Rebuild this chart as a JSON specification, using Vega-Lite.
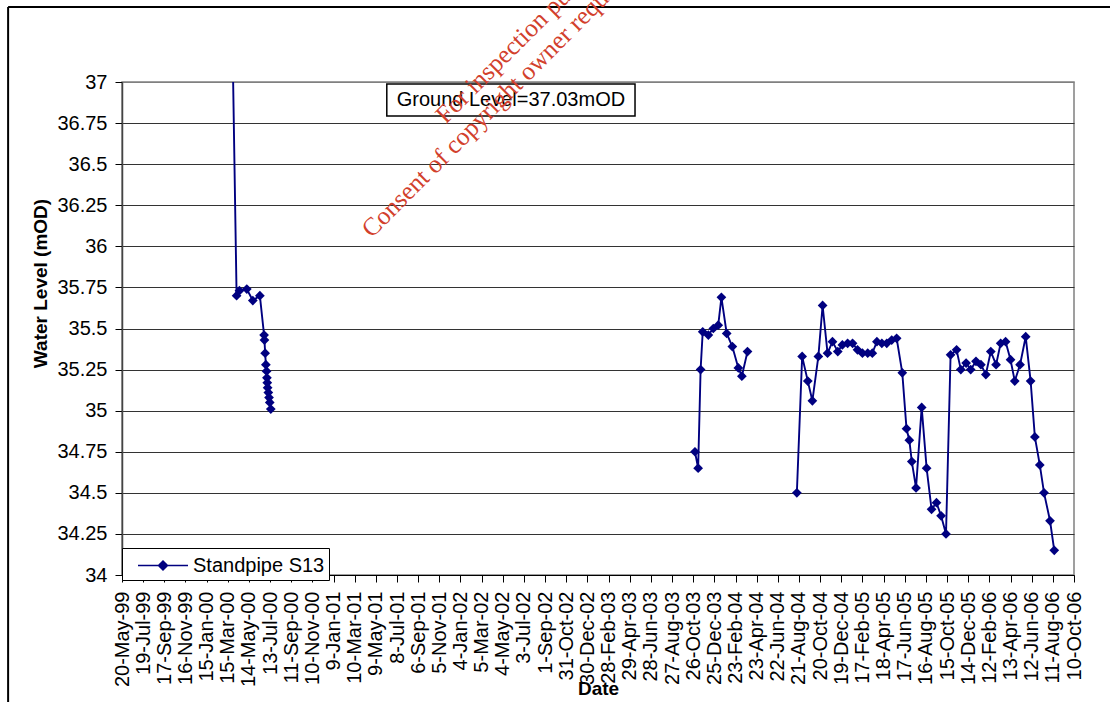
{
  "$schema": "https://vega.github.io/schema/vega-lite/v6.json",
  "autosize": "none",
  "width": 952,
  "height": 493,
  "padding": {"left": 122, "top": 82, "right": 36, "bottom": 138},
  "background": "white",
  "config": {
    "font": "Liberation Sans",
    "view": {"stroke": "#808080", "strokeWidth": 1.5},
    "axis": {"labelOverlap": false}
  },
  "data": {"values": [{"note": "annotation"}]},
  "datasets": {
    "levels": [
      {"date": "2000-03-30", "level": 37.03, "seg": 1},
      {"date": "2000-04-09", "level": 35.70, "seg": 1},
      {"date": "2000-04-17", "level": 35.73, "seg": 1},
      {"date": "2000-05-08", "level": 35.74, "seg": 1},
      {"date": "2000-05-25", "level": 35.67, "seg": 1},
      {"date": "2000-06-14", "level": 35.70, "seg": 1},
      {"date": "2000-06-26", "level": 35.46, "seg": 1},
      {"date": "2000-06-27", "level": 35.43, "seg": 1},
      {"date": "2000-06-29", "level": 35.35, "seg": 1},
      {"date": "2000-07-01", "level": 35.28, "seg": 1},
      {"date": "2000-07-03", "level": 35.24, "seg": 1},
      {"date": "2000-07-04", "level": 35.20, "seg": 1},
      {"date": "2000-07-05", "level": 35.17, "seg": 1},
      {"date": "2000-07-06", "level": 35.14, "seg": 1},
      {"date": "2000-07-08", "level": 35.11, "seg": 1},
      {"date": "2000-07-10", "level": 35.08, "seg": 1},
      {"date": "2000-07-12", "level": 35.05, "seg": 1},
      {"date": "2000-07-15", "level": 35.01, "seg": 1},
      {"date": "2003-10-31", "level": 34.75, "seg": 2},
      {"date": "2003-11-09", "level": 34.65, "seg": 2},
      {"date": "2003-11-16", "level": 35.25, "seg": 2},
      {"date": "2003-11-22", "level": 35.48, "seg": 2},
      {"date": "2003-12-08", "level": 35.46, "seg": 2},
      {"date": "2003-12-22", "level": 35.50, "seg": 2},
      {"date": "2004-01-05", "level": 35.52, "seg": 2},
      {"date": "2004-01-14", "level": 35.69, "seg": 2},
      {"date": "2004-01-29", "level": 35.47, "seg": 2},
      {"date": "2004-02-14", "level": 35.39, "seg": 2},
      {"date": "2004-03-02", "level": 35.26, "seg": 2},
      {"date": "2004-03-12", "level": 35.21, "seg": 2},
      {"date": "2004-03-28", "level": 35.36, "seg": 2},
      {"date": "2004-08-15", "level": 34.50, "seg": 3},
      {"date": "2004-08-30", "level": 35.33, "seg": 3},
      {"date": "2004-09-15", "level": 35.18, "seg": 3},
      {"date": "2004-09-28", "level": 35.06, "seg": 3},
      {"date": "2004-10-15", "level": 35.33, "seg": 3},
      {"date": "2004-10-27", "level": 35.64, "seg": 3},
      {"date": "2004-11-10", "level": 35.35, "seg": 3},
      {"date": "2004-11-24", "level": 35.42, "seg": 3},
      {"date": "2004-12-09", "level": 35.36, "seg": 3},
      {"date": "2004-12-22", "level": 35.40, "seg": 3},
      {"date": "2005-01-06", "level": 35.41, "seg": 3},
      {"date": "2005-01-20", "level": 35.41, "seg": 3},
      {"date": "2005-02-03", "level": 35.37, "seg": 3},
      {"date": "2005-02-17", "level": 35.35, "seg": 3},
      {"date": "2005-03-04", "level": 35.35, "seg": 3},
      {"date": "2005-03-17", "level": 35.35, "seg": 3},
      {"date": "2005-03-30", "level": 35.42, "seg": 3},
      {"date": "2005-04-13", "level": 35.41, "seg": 3},
      {"date": "2005-04-27", "level": 35.41, "seg": 3},
      {"date": "2005-05-11", "level": 35.43, "seg": 3},
      {"date": "2005-05-25", "level": 35.44, "seg": 3},
      {"date": "2005-06-10", "level": 35.23, "seg": 3},
      {"date": "2005-06-22", "level": 34.89, "seg": 3},
      {"date": "2005-06-30", "level": 34.82, "seg": 3},
      {"date": "2005-07-07", "level": 34.69, "seg": 3},
      {"date": "2005-07-19", "level": 34.53, "seg": 3},
      {"date": "2005-08-04", "level": 35.02, "seg": 3},
      {"date": "2005-08-18", "level": 34.65, "seg": 3},
      {"date": "2005-09-01", "level": 34.40, "seg": 3},
      {"date": "2005-09-15", "level": 34.44, "seg": 3},
      {"date": "2005-09-28", "level": 34.36, "seg": 3},
      {"date": "2005-10-12", "level": 34.25, "seg": 3},
      {"date": "2005-10-25", "level": 35.34, "seg": 3},
      {"date": "2005-11-11", "level": 35.37, "seg": 3},
      {"date": "2005-11-23", "level": 35.25, "seg": 3},
      {"date": "2005-12-08", "level": 35.29, "seg": 3},
      {"date": "2005-12-21", "level": 35.25, "seg": 3},
      {"date": "2006-01-05", "level": 35.30, "seg": 3},
      {"date": "2006-01-19", "level": 35.28, "seg": 3},
      {"date": "2006-02-02", "level": 35.22, "seg": 3},
      {"date": "2006-02-16", "level": 35.36, "seg": 3},
      {"date": "2006-03-03", "level": 35.28, "seg": 3},
      {"date": "2006-03-16", "level": 35.41, "seg": 3},
      {"date": "2006-03-30", "level": 35.42, "seg": 3},
      {"date": "2006-04-13", "level": 35.31, "seg": 3},
      {"date": "2006-04-25", "level": 35.18, "seg": 3},
      {"date": "2006-05-10", "level": 35.28, "seg": 3},
      {"date": "2006-05-26", "level": 35.45, "seg": 3},
      {"date": "2006-06-09", "level": 35.18, "seg": 3},
      {"date": "2006-06-21", "level": 34.84, "seg": 3},
      {"date": "2006-07-05", "level": 34.67, "seg": 3},
      {"date": "2006-07-17", "level": 34.50, "seg": 3},
      {"date": "2006-08-03", "level": 34.33, "seg": 3},
      {"date": "2006-08-15", "level": 34.15, "seg": 3}
    ]
  },
  "layer": [
    {
      "data": {"name": "levels"},
      "mark": {"type": "line", "color": "#000080", "strokeWidth": 1.9, "clip": true},
      "encoding": {
        "x": {
          "field": "date",
          "type": "temporal",
          "title": "Date",
          "scale": {
            "type": "utc",
            "domain": [
              {"year": 1999, "month": 5, "date": 20, "utc": true},
              {"year": 2006, "month": 10, "date": 10, "utc": true}
            ]
          },
          "axis": {
            "labelExpr": "utcFormat(datum.value, '%-d-%b-%y')",
            "tickCount": 200,
            "labelAngle": -90,
            "labelAlign": "right",
            "labelBaseline": "middle",
            "labelFontSize": 20,
            "labelColor": "black",
            "labelOverlap": false,
            "labelBound": false,
            "labelFlush": false,
            "labelPadding": 9,
            "tickSize": 7,
            "tickColor": "black",
            "domainColor": "black",
            "domainWidth": 1.2,
            "grid": false,
            "titleFontSize": 19,
            "titleFontWeight": "bold",
            "titleColor": "black",
            "titleY": 113,
            "titleBaseline": "middle",
            "values": [
              {"year": 1999, "month": 5, "date": 20, "utc": true},
              {"year": 1999, "month": 7, "date": 19, "utc": true},
              {"year": 1999, "month": 9, "date": 17, "utc": true},
              {"year": 1999, "month": 11, "date": 16, "utc": true},
              {"year": 2000, "month": 1, "date": 15, "utc": true},
              {"year": 2000, "month": 3, "date": 15, "utc": true},
              {"year": 2000, "month": 5, "date": 14, "utc": true},
              {"year": 2000, "month": 7, "date": 13, "utc": true},
              {"year": 2000, "month": 9, "date": 11, "utc": true},
              {"year": 2000, "month": 11, "date": 10, "utc": true},
              {"year": 2001, "month": 1, "date": 9, "utc": true},
              {"year": 2001, "month": 3, "date": 10, "utc": true},
              {"year": 2001, "month": 5, "date": 9, "utc": true},
              {"year": 2001, "month": 7, "date": 8, "utc": true},
              {"year": 2001, "month": 9, "date": 6, "utc": true},
              {"year": 2001, "month": 11, "date": 5, "utc": true},
              {"year": 2002, "month": 1, "date": 4, "utc": true},
              {"year": 2002, "month": 3, "date": 5, "utc": true},
              {"year": 2002, "month": 5, "date": 4, "utc": true},
              {"year": 2002, "month": 7, "date": 3, "utc": true},
              {"year": 2002, "month": 9, "date": 1, "utc": true},
              {"year": 2002, "month": 10, "date": 31, "utc": true},
              {"year": 2002, "month": 12, "date": 30, "utc": true},
              {"year": 2003, "month": 2, "date": 28, "utc": true},
              {"year": 2003, "month": 4, "date": 29, "utc": true},
              {"year": 2003, "month": 6, "date": 28, "utc": true},
              {"year": 2003, "month": 8, "date": 27, "utc": true},
              {"year": 2003, "month": 10, "date": 26, "utc": true},
              {"year": 2003, "month": 12, "date": 25, "utc": true},
              {"year": 2004, "month": 2, "date": 23, "utc": true},
              {"year": 2004, "month": 4, "date": 23, "utc": true},
              {"year": 2004, "month": 6, "date": 22, "utc": true},
              {"year": 2004, "month": 8, "date": 21, "utc": true},
              {"year": 2004, "month": 10, "date": 20, "utc": true},
              {"year": 2004, "month": 12, "date": 19, "utc": true},
              {"year": 2005, "month": 2, "date": 17, "utc": true},
              {"year": 2005, "month": 4, "date": 18, "utc": true},
              {"year": 2005, "month": 6, "date": 17, "utc": true},
              {"year": 2005, "month": 8, "date": 16, "utc": true},
              {"year": 2005, "month": 10, "date": 15, "utc": true},
              {"year": 2005, "month": 12, "date": 14, "utc": true},
              {"year": 2006, "month": 2, "date": 12, "utc": true},
              {"year": 2006, "month": 4, "date": 13, "utc": true},
              {"year": 2006, "month": 6, "date": 12, "utc": true},
              {"year": 2006, "month": 8, "date": 11, "utc": true},
              {"year": 2006, "month": 10, "date": 10, "utc": true}
            ]
          }
        },
        "y": {
          "field": "level",
          "type": "quantitative",
          "title": "Water Level (mOD)",
          "scale": {"domain": [34, 37], "nice": false, "zero": false},
          "axis": {
            "values": [34, 34.25, 34.5, 34.75, 35, 35.25, 35.5, 35.75, 36, 36.25, 36.5, 36.75, 37],
            "tickCount": 50,
            "labelExpr": "format(datum.value, '~g')",
            "labelFontSize": 20,
            "labelColor": "black",
            "labelPadding": 8,
            "labelBound": false,
            "labelFlush": false,
            "labelOverlap": false,
            "tickSize": 7,
            "tickColor": "black",
            "domainColor": "#444444",
            "domainWidth": 1.5,
            "grid": true,
            "gridColor": {"condition": {"test": "datum.value === 37", "value": "#808080"}, "value": "#333333"},
            "gridWidth": 1,
            "titleFontSize": 19,
            "titleFontWeight": "bold",
            "titleColor": "black",
            "titleAngle": 270,
            "titleX": -82,
            "titleY": 201,
            "titleAlign": "center",
            "titleBaseline": "middle"
          }
        },
        "detail": {"field": "seg", "type": "nominal"},
        "color": {
          "datum": "Standpipe S13",
          "type": "nominal",
          "scale": {"range": ["#000080"]},
          "legend": {
            "title": null,
            "orient": "none",
            "legendX": 0,
            "legendY": 466,
            "padding": 4,
            "fillColor": "white",
            "strokeColor": "black",
            "cornerRadius": 0,
            "symbolType": "M-1,0H3M1,-0.36L1.36,0L1,0.36L0.64,0Z",
            "symbolSize": 625,
            "symbolStrokeWidth": 1.5,
            "symbolOffset": 11,
            "symbolFillColor": "#000080",
            "symbolStrokeColor": "#000080",
            "labelOffset": 29,
            "labelFontSize": 20,
            "labelColor": "black",
            "labelFont": "Liberation Sans",
            "encode": {
              "symbols": {"update": {"fill": {"value": "#000080"}, "stroke": {"value": "#000080"}, "strokeWidth": {"value": 1.5}}}
            }
          }
        }
      }
    },
    {
      "data": {"name": "levels"},
      "mark": {"type": "point", "shape": "diamond", "filled": true, "size": 95, "opacity": 1, "clip": true, "color": "#000080"},
      "encoding": {
        "x": {"field": "date", "type": "temporal"},
        "y": {"field": "level", "type": "quantitative"},
        "color": {"datum": "Standpipe S13", "type": "nominal"}
      }
    },
    {
      "mark": {"type": "rule", "color": "black", "strokeWidth": 2, "clip": false},
      "encoding": {
        "x": {"datum": {"year": 1998, "month": 7, "date": 1, "utc": true}, "type": "temporal"},
        "y": {"datum": 37.456},
        "y2": {"datum": 33.227}
      }
    },
    {
      "mark": {"type": "rule", "color": "black", "strokeWidth": 2, "clip": false},
      "encoding": {
        "x": {"datum": {"year": 1998, "month": 7, "date": 1, "utc": true}, "type": "temporal"},
        "x2": {"datum": {"year": 2007, "month": 3, "date": 1, "utc": true}},
        "y": {"datum": 37.456}
      }
    },
    {
      "mark": {"type": "rect", "fill": "white", "stroke": "black", "strokeWidth": 1.5, "clip": false},
      "encoding": {
        "x": {"datum": {"year": 2001, "month": 6, "date": 9, "utc": true}, "type": "temporal"},
        "x2": {"datum": {"year": 2003, "month": 5, "date": 14, "utc": true}},
        "y": {"datum": 36.988},
        "y2": {"datum": 36.793}
      }
    },
    {
      "mark": {"type": "text", "text": "Ground Level=37.03mOD", "font": "Liberation Sans", "fontSize": 20, "color": "black", "align": "center", "baseline": "middle", "clip": false},
      "encoding": {
        "x": {"datum": {"year": 2002, "month": 5, "date": 27, "utc": true}, "type": "temporal"},
        "y": {"datum": 36.89}
      }
    },
    {
      "mark": {"type": "text", "text": "Consent of copyright owner required for any other use.", "font": "Liberation Serif", "fontSize": 25.5, "color": "#d2402c", "angle": -45, "align": "left", "baseline": "middle", "clip": false},
      "encoding": {
        "x": {"datum": {"year": 2001, "month": 4, "date": 11, "utc": true}, "type": "temporal"},
        "y": {"datum": 36.081}
      }
    },
    {
      "mark": {"type": "text", "text": "For inspection purposes only.", "font": "Liberation Serif", "fontSize": 25.5, "color": "#d2402c", "angle": -45, "align": "left", "baseline": "middle", "clip": false},
      "encoding": {
        "x": {"datum": {"year": 2001, "month": 11, "date": 7, "utc": true}, "type": "temporal"},
        "y": {"datum": 36.775}
      }
    }
  ]
}
